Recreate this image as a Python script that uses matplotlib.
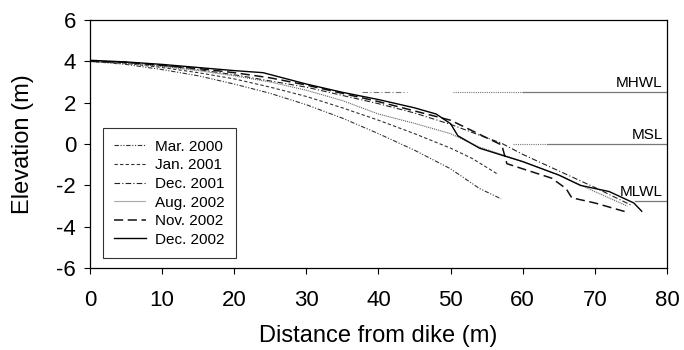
import matplotlib
matplotlib.use("Agg")
import matplotlib.pyplot as plt

plt.rcParams['font.family'] = ['Liberation Sans', 'DejaVu Sans']
plt.rcParams['axes.unicode_minus'] = False

# 剖面数据 (距离 m, 高程 m)
mar2000_x = [0, 5, 10, 15, 20, 25, 30, 35, 40, 45, 50, 54, 57]
mar2000_y = [4.0, 3.85, 3.6, 3.3, 2.9, 2.45, 1.9, 1.25, 0.5, -0.3, -1.2, -2.15, -2.65]

jan2001_x = [0, 5, 10, 15, 20, 25, 30, 35, 40, 45, 50, 53, 56.5]
jan2001_y = [4.0, 3.9, 3.7, 3.45, 3.15, 2.75, 2.3, 1.75, 1.15, 0.5, -0.2, -0.7, -1.45]

dec2001_x = [0, 5, 10, 15, 20, 25, 30, 35, 40, 45, 50, 55, 57, 60, 65, 70, 75]
dec2001_y = [4.0, 3.95, 3.8, 3.6, 3.35, 3.05, 2.75, 2.35, 1.95, 1.5, 0.95, 0.3, 0.05, -0.5, -1.3, -2.1, -2.95]

aug2002_x = [0, 5, 10, 15, 20, 25, 30, 35, 40, 45, 50, 54, 57, 60, 65, 70, 74.5]
aug2002_y = [4.0, 3.9, 3.75, 3.55, 3.3, 3.0, 2.6, 2.1, 1.45, 1.0, 0.5, -0.15, -0.5, -0.85, -1.5, -2.3, -3.0]

nov2002_x = [0, 5, 10, 15, 20, 25, 30, 35, 40, 45, 50, 55, 57.1, 57.8, 60, 64, 66, 66.8, 70, 74.5]
nov2002_y = [4.0, 3.95, 3.8, 3.65, 3.45, 3.2, 2.85, 2.45, 2.05, 1.6, 1.15, 0.3, -0.05, -0.95, -1.2, -1.65, -2.15, -2.6, -2.85, -3.3]

dec2002_x = [0, 5, 10, 15, 20, 24, 30, 35, 40, 45, 48, 50, 51, 54, 57.3, 60, 65, 68, 72, 75.4, 76.5]
dec2002_y = [4.05, 3.97, 3.85, 3.7, 3.55, 3.45, 2.9, 2.5, 2.15, 1.75, 1.45, 0.98, 0.4, -0.2, -0.56, -0.85, -1.5, -2.0, -2.3, -2.85, -3.25]

# 潮位线
level_names = ['MHWL', 'MSL', 'MLWL']
level_values = [2.5, 0.0, -2.75]

fig = plt.figure(figsize=(6.84, 3.5), dpi=100)
ax = fig.add_axes([0.1316, 0.234, 0.8435, 0.709])

gray = '#777777'
# 潮位线 (部分被剖面遮挡的虚线段)
ax.plot([37.7, 44], [level_values[0]] * 2, color=gray, lw=0.8, ls=(0, (5, 2, 1, 2)))
ax.plot([50.3, 60], [level_values[0]] * 2, color=gray, lw=0.8, ls=(0, (1, 1)))
ax.plot([60, 80], [level_values[0]] * 2, color=gray, lw=0.9)
ax.plot([58.7, 63.5], [level_values[1]] * 2, color=gray, lw=0.8, ls=(0, (1, 1)))
ax.plot([63.5, 80], [level_values[1]] * 2, color=gray, lw=0.9)
ax.plot([75.5, 80], [level_values[2]] * 2, color=gray, lw=0.9)

for name, v in zip(level_names, level_values):
    ax.text(79.4, v + 0.1, name, ha='right', va='bottom', fontsize=11)

ax.plot(mar2000_x, mar2000_y, color='#333333', lw=0.8,
        ls=(0, (4, 1.5, 1, 1.5, 1, 1.5)), label='Mar. 2000')
ax.plot(jan2001_x, jan2001_y, color='#333333', lw=0.8,
        ls=(0, (3, 2)), label='Jan. 2001')
ax.plot(dec2001_x, dec2001_y, color='#222222', lw=0.8,
        ls=(0, (5, 2, 1, 2)), label='Dec. 2001')
ax.plot(aug2002_x, aug2002_y, color='#666666', lw=0.8,
        ls=(0, (1, 0.8)), label='Aug. 2002')
ax.plot(nov2002_x, nov2002_y, color='#111111', lw=1.1,
        ls=(0, (6, 3)), label='Nov. 2002')
ax.plot(dec2002_x, dec2002_y, color='black', lw=1.0,
        ls='-', label='Dec. 2002')

ax.set_xlim(0, 80)
ax.set_ylim(-6, 6)
ax.set_xticks(range(0, 81, 10))
ax.set_yticks(range(-6, 7, 2))
ax.tick_params(direction='out', length=4, width=0.8, labelsize=16)
ax.tick_params(axis='x', pad=12)
ax.tick_params(axis='y', pad=6)
for s in ax.spines.values():
    s.set_linewidth(0.9)

ax.set_xlabel('Distance from dike (m)', fontsize=17, labelpad=10)
ax.set_ylabel('Elevation (m)', fontsize=17, labelpad=16)

leg = ax.legend(loc='lower left', bbox_to_anchor=(0.022, 0.04), fontsize=11,
                frameon=True, fancybox=False, edgecolor='black',
                handlelength=2.1, borderpad=0.75, labelspacing=0.3,
                handletextpad=0.6, borderaxespad=0)
leg.get_frame().set_linewidth(0.8)

fig.savefig('out.png', dpi=100)
